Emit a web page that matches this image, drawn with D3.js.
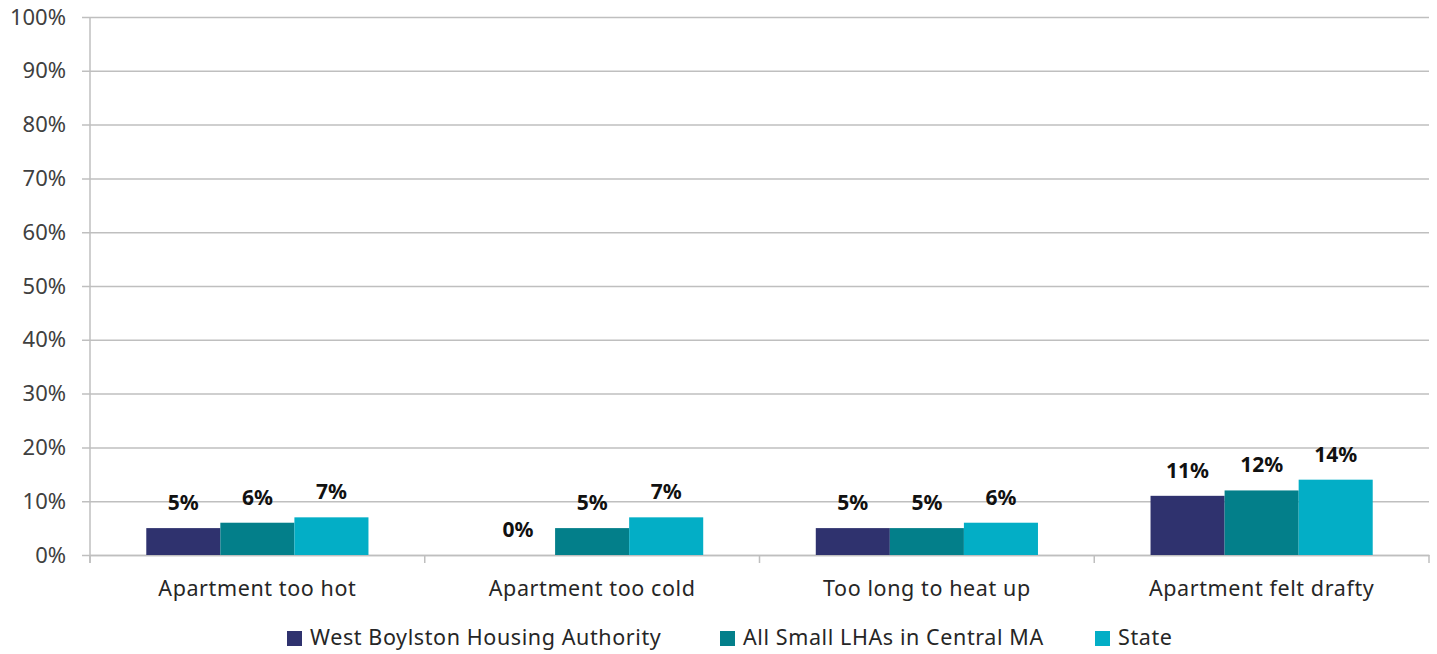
<!DOCTYPE html>
<html>
<head>
<meta charset="utf-8">
<script src="https://cdn.jsdelivr.net/npm/d3@7"></script>
<style>
  body { margin: 0; background: #fff; }
  svg { display: block; font-family: "Noto Sans", Lato, sans-serif; }
</style>
</head>
<body>
<div id="chart"></div>
<script>
const categories = ["Apartment too hot", "Apartment too cold", "Too long to heat up", "Apartment felt drafty"];
const seriesNames = ["West Boylston Housing Authority", "All Small LHAs in Central MA", "State"];
const westBoylston = [0.05, 0.00, 0.05, 0.11];
const smallLHAs = [0.06, 0.05, 0.05, 0.12];
const state = [0.07, 0.07, 0.06, 0.14];
const yTicks = [0, 0.1, 0.2, 0.3, 0.4, 0.5, 0.6, 0.7, 0.8, 0.9, 1.0];

const colors = ["#2f326e", "#037f8a", "#03aec6"];
const seriesValues = [westBoylston, smallLHAs, state];

const width = 1437, height = 654;
const margin = { top: 17, right: 8, bottom: 99, left: 90 };
const font = '"Noto Sans", Lato, sans-serif';

const svg = d3.select("#chart").append("svg")
  .attr("width", width)
  .attr("height", height);

const x0 = d3.scaleBand()
  .domain(categories)
  .range([margin.left, width - margin.right])
  .padding(0);

const x1 = d3.scaleBand()
  .domain(seriesNames)
  .range([0, x0.bandwidth()])
  .paddingInner(0)
  .paddingOuter(0.76);

const y = d3.scaleLinear()
  .domain([0, 1])
  .range([height - margin.bottom, margin.top]);

const gridColor = "#bfbfbf";

// gridlines + y labels
const yAxis = svg.append("g")
  .attr("transform", `translate(${margin.left},0)`)
  .call(d3.axisLeft(y).tickValues(yTicks).tickFormat(d3.format(".0%"))
    .tickSize(-(width - margin.right - margin.left)))
  .attr("font-family", font);
yAxis.select(".domain").remove();
yAxis.selectAll(".tick line")
  .attr("stroke", gridColor).attr("stroke-width", 1.5)
  .attr("x1", -8);
yAxis.selectAll(".tick text")
  .attr("fill", "#404040")
  .style("font-size", "22px")
  .attr("x", -24);

// y axis line
svg.append("line")
  .attr("x1", margin.left).attr("x2", margin.left)
  .attr("y1", margin.top).attr("y2", y(0) + 8)
  .attr("stroke", gridColor).attr("stroke-width", 1.5);

// x axis
const xAxis = svg.append("g")
  .attr("transform", `translate(0,${y(0)})`)
  .call(d3.axisBottom(x0).tickSize(0).tickPadding(26))
  .attr("font-family", font);
xAxis.select(".domain").attr("stroke", gridColor).attr("stroke-width", 1.5);
xAxis.selectAll(".tick text")
  .attr("fill", "#262626")
  .style("font-size", "21.5px")
  .style("letter-spacing", "0.6px");

// category boundary ticks
const bounds = categories.map(c => x0(c)).concat([x0.range()[1]]);
svg.append("g").selectAll("line")
  .data(bounds)
  .join("line")
  .attr("x1", d => d).attr("x2", d => d)
  .attr("y1", y(0)).attr("y2", y(0) + 8)
  .attr("stroke", gridColor).attr("stroke-width", 1.5);

// bars
const groups = svg.append("g").selectAll("g")
  .data(categories)
  .join("g")
  .attr("transform", d => `translate(${x0(d)},0)`);

const cells = groups.selectAll("g")
  .data((c, i) => seriesNames.map((s, j) => ({ s, j, v: seriesValues[j][i] })))
  .join("g");

cells.append("rect")
  .attr("x", d => x1(d.s))
  .attr("width", x1.bandwidth())
  .attr("y", d => y(d.v))
  .attr("height", d => y(0) - y(d.v))
  .attr("fill", d => colors[d.j]);

cells.append("text")
  .attr("x", d => x1(d.s) + x1.bandwidth() / 2)
  .attr("y", d => y(d.v) - 18)
  .attr("text-anchor", "middle")
  .attr("fill", "#111")
  .style("font-size", "21px")
  .style("font-weight", "bold")
  .text(d => d3.format(".0%")(d.v));

// legend
const legendX = [287, 720, 1095];
const legend = svg.append("g").selectAll("g")
  .data(seriesNames)
  .join("g")
  .attr("transform", (d, i) => `translate(${legendX[i]},631)`);
legend.append("rect")
  .attr("width", 15).attr("height", 15)
  .attr("fill", (d, i) => colors[i]);
legend.append("text")
  .attr("x", 23).attr("y", 14)
  .attr("fill", "#262626")
  .style("font-size", "21.5px")
  .style("letter-spacing", "0.6px")
  .text(d => d);
</script>
</body>
</html>
